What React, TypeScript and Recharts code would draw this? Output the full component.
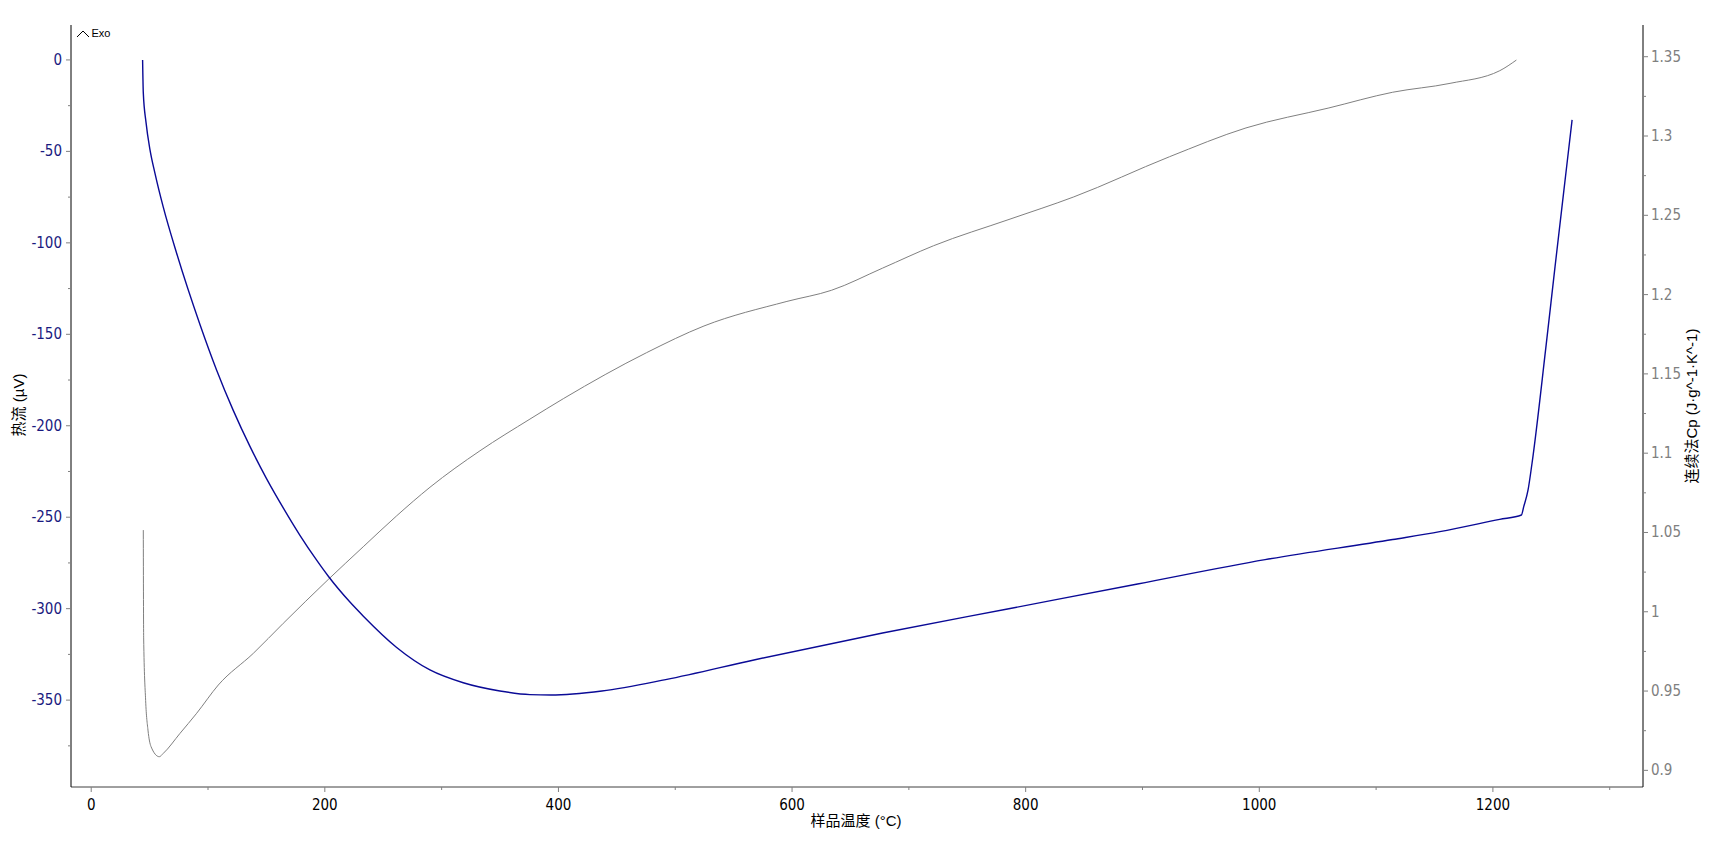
import { LineChart, Line, XAxis, YAxis } from "recharts";

// 热流 (µV) vs 样品温度
const hfTemp = [44, 44.6, 46.9, 50.3, 54.6, 61.7, 73.2, 93.1, 107.4, 121.6, 135.9, 150.2, 164.4, 178.7, 193, 203, 221.5, 233, 261.5, 290, 318.5, 349.9, 375.6, 393.6, 437.2, 491.8, 568.3, 677.5, 786.7, 895.8, 1005, 1114.2, 1154.5, 1205.8, 1224.4, 1226.4, 1230.1, 1233.5, 1245.2, 1253.2, 1263.2, 1267.8];
const hfValue = [0, -18, -34, -49, -62, -80.5, -105.8, -144.6, -169.6, -191.6, -211.3, -229, -244.9, -259.9, -273.5, -282.3, -296.4, -304.1, -321.2, -333.5, -340.5, -345, -347, -347.2, -345, -338.8, -327.9, -313.3, -299.9, -286.5, -273.2, -262.2, -257.9, -251.2, -248.8, -244.2, -235.1, -220.5, -158, -113, -58, -32.8];

// 连续法Cp vs 样品温度
const cpTemp = [44.6, 44.9, 46.6, 48.6, 51.2, 58.3, 61.7, 76, 90.3, 108.8, 138.8, 164.4, 203, 232.9, 261.5, 290, 332.8, 375.6, 404.5, 475.5, 524.6, 595.6, 633.7, 677.5, 721.1, 786.6, 841.2, 923, 988.6, 1059.6, 1114.2, 1163.3, 1205.9, 1220.1];
const cpValue = [1.0515, 0.984, 0.944, 0.9254, 0.915, 0.9086, 0.9107, 0.9233, 0.936, 0.9538, 0.9738, 0.9927, 1.0204, 1.041, 1.0605, 1.0785, 1.1015, 1.1215, 1.1345, 1.1634, 1.1802, 1.1957, 1.2027, 1.2167, 1.2308, 1.2476, 1.2616, 1.2869, 1.3051, 1.3177, 1.3276, 1.3332, 1.3412, 1.3479];

const xTicks = [0, 100, 200, 300, 400, 500, 600, 700, 800, 900, 1000, 1100, 1200, 1300];
const hfTicks = [-375, -350, -325, -300, -275, -250, -225, -200, -175, -150, -125, -100, -75, -50, -25, 0];
const cpTicks = [0.9, 0.925, 0.95, 0.975, 1, 1.025, 1.05, 1.075, 1.1, 1.125, 1.15, 1.175, 1.2, 1.225, 1.25, 1.275, 1.3, 1.325, 1.35];

const heatData = hfTemp.map((t, i) => ({ t, v: hfValue[i] }));
const cpData = cpTemp.map((t, i) => ({ t, c: cpValue[i] }));

const tickFont = "'Liberation Sans Narrow', 'DejaVu Sans Condensed', 'Liberation Sans', sans-serif";
const titleFont = "'Liberation Sans', 'Noto Sans CJK SC', sans-serif";

const XTick = (props: any) => {
  const { x, y, payload } = props;
  const major = payload.value % 200 === 0;
  return (
    <g>
      <line x1={x} y1={y} x2={x} y2={y + (major ? 5 : 3)} stroke="#808080" />
      {major && (
        <text x={x} y={y + 18} textAnchor="middle" dominantBaseline="central" fontSize={15} fontFamily={tickFont} fill="#000">
          {payload.value}
        </text>
      )}
    </g>
  );
};

const HfTick = (props: any) => {
  const { x, y, payload } = props;
  const major = payload.value % 50 === 0;
  return (
    <g>
      <line x1={x - (major ? 5 : 3)} y1={y} x2={x} y2={y} stroke="#808080" />
      {major && (
        <text x={x - 9} y={y} textAnchor="end" dominantBaseline="central" fontSize={15} fontFamily={tickFont} fill="#1a1a80">
          {payload.value}
        </text>
      )}
    </g>
  );
};

const CpTick = (props: any) => {
  const { x, y, payload } = props;
  const major = Math.round(payload.value * 1000) % 50 === 0;
  return (
    <g>
      <line x1={x} y1={y} x2={x + (major ? 5 : 3)} y2={y} stroke="#808080" />
      {major && (
        <text x={x + 8} y={y} textAnchor="start" dominantBaseline="central" fontSize={15} fontFamily={tickFont} fill="#808080">
          {Number(payload.value.toFixed(3)).toString()}
        </text>
      )}
    </g>
  );
};

export default function App() {
  return (
    <div style={{ position: "absolute", left: 0, top: 0, width: 1713, height: 843, background: "#fff" }}>
      <LineChart width={1713} height={843} margin={{ top: 25, right: 0, bottom: 0, left: 0 }}>
        <XAxis
          type="number"
          dataKey="t"
          domain={[-17.3, 1328.5]}
          ticks={xTicks}
          interval={0}
          allowDataOverflow
          height={56}
          tickSize={0}
          tickMargin={0}
          tickLine={false}
          tick={<XTick />}
          axisLine={{ stroke: "#404040" }}
        />
        <YAxis
          yAxisId="hf"
          type="number"
          domain={[-397.5, 19.1]}
          ticks={hfTicks}
          interval={0}
          allowDataOverflow
          width={71}
          tickSize={0}
          tickMargin={0}
          tickLine={false}
          tick={<HfTick />}
          axisLine={{ stroke: "#000" }}
        />
        <YAxis
          yAxisId="cp"
          orientation="right"
          type="number"
          domain={[0.8895, 1.37]}
          ticks={cpTicks}
          interval={0}
          allowDataOverflow
          width={70}
          tickSize={0}
          tickMargin={0}
          tickLine={false}
          tick={<CpTick />}
          axisLine={{ stroke: "#000" }}
        />
        <Line yAxisId="cp" data={cpData} dataKey="c" type="monotone" stroke="#808080" strokeWidth={1} dot={false} activeDot={false} isAnimationActive={false} />
        <Line yAxisId="hf" data={heatData} dataKey="v" type="monotone" stroke="#0a0a96" strokeWidth={1.4} dot={false} activeDot={false} isAnimationActive={false} />
      </LineChart>
      <svg width={1713} height={843} style={{ position: "absolute", left: 0, top: 0, pointerEvents: "none" }}>
        <polyline points="77,37 83,31 89,37" fill="none" stroke="#000" strokeWidth={1} />
        <text x={91.5} y={36.5} fontSize={11} fontFamily="'Liberation Sans', sans-serif" fill="#000">Exo</text>
        <text x={856} y={820} textAnchor="middle" dominantBaseline="central" fontSize={15} fontFamily={titleFont} fill="#000">
          样品温度 (°C)
        </text>
        <text x={18} y={405} textAnchor="middle" dominantBaseline="central" fontSize={15} fontFamily={titleFont} fill="#000" transform="rotate(-90 18 405)">
          热流 (µV)
        </text>
        <text x={1691} y={406} textAnchor="middle" dominantBaseline="central" fontSize={15} fontFamily={titleFont} fill="#000" transform="rotate(-90 1691 406)">
          连续法Cp (J·g^-1·K^-1)
        </text>
      </svg>
    </div>
  );
}
